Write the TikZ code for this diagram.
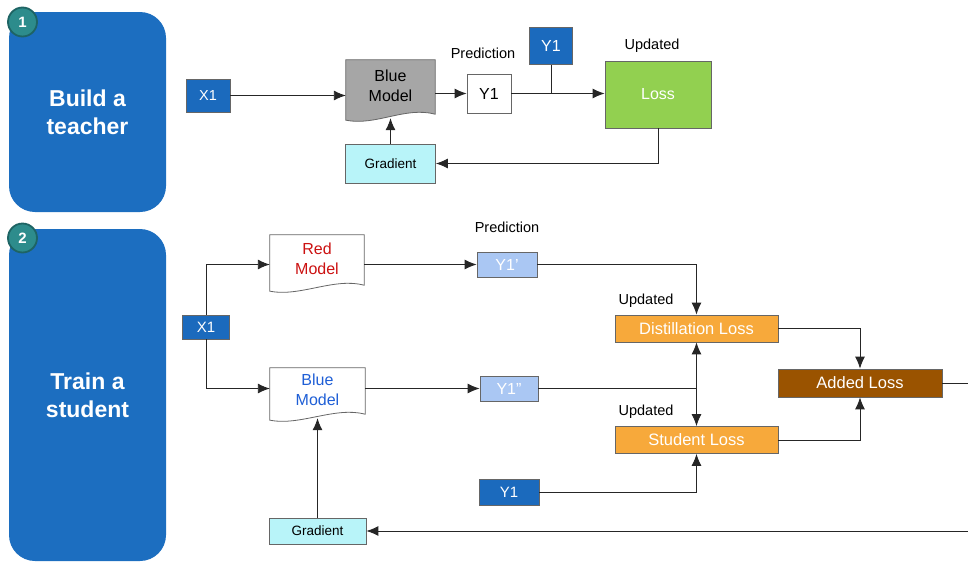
\documentclass[tikz,border=0pt]{standalone}
\usepackage{fontspec}
\setmainfont{Liberation Sans}
\usetikzlibrary{arrows.meta,backgrounds}

\definecolor{panelblue}{RGB}{28,110,192}
\definecolor{badgeteal}{RGB}{45,140,140}
\definecolor{badgeedge}{RGB}{30,100,100}
\definecolor{xblue}{RGB}{27,106,189}
\definecolor{modelgray}{RGB}{166,166,166}
\definecolor{lossgreen}{RGB}{146,208,80}
\definecolor{gradcyan}{RGB}{184,244,249}
\definecolor{predblue}{RGB}{170,199,243}
\definecolor{lossorange}{RGB}{247,169,59}
\definecolor{addbrown}{RGB}{154,83,0}
\definecolor{redtext}{RGB}{204,17,17}
\definecolor{bluetext}{RGB}{31,95,214}

\newcommand{\fs}[2]{\fontsize{#1}{#2}\selectfont}

% wavy bottom of a model node, drawn behind it
\newcommand{\docshape}[2]{%
  \begin{scope}[on background layer]
    \filldraw[fill=#2, draw=black!60, line width=.8pt]
      (#1.north west) -- (#1.north east) -- ([yshift=-2pt]#1.south east)
      .. controls ([xshift=-30pt,yshift=6pt]#1.south east) and ([xshift=30pt,yshift=-14pt]#1.south west)
      .. ([yshift=-8pt]#1.south west) -- cycle;
  \end{scope}
  \coordinate (#1 foot) at ([yshift=-6pt]#1.south);}

\tikzset{
  panel/.style={fill=panelblue, rounded corners=26pt, text=white, align=center,
    font=\bfseries\fs{23}{28}, minimum width=157, inner sep=0pt},
  badge/.style={circle, fill=badgeteal, draw=badgeedge, line width=1.8pt, text=white,
    font=\bfseries\fs{15}{18}, minimum size=29, inner sep=0pt},
  box/.style={draw=black!60, line width=.8pt, inner sep=0pt, align=center},
  xbox/.style={box, fill=xblue, text=white},
  model/.style={inner sep=0pt, align=center, font=\fs{16}{20}},
  lossbox/.style={box, fill=lossorange, text=white, font=\fs{16.5}{20},
    minimum width=163, minimum height=27},
  tag/.style={font=\fs{14.5}{18}},
  link/.style={draw=black!85, line width=.9pt},
  arr/.style={link, -{Latex[length=12pt,width=10pt]}},
}

\begin{document}
\begin{tikzpicture}[x=1pt, y=-1pt]
  \useasboundingbox (0,0) rectangle (968,562);

  % step 1
  \node[panel, minimum height=200] (pA) at (87.5,112) {Build a\\teacher};
  \node[badge] (nA) at (22.5,22) {1};
  \node[xbox, font=\fs{14.5}{17}, minimum width=44, minimum height=33] (xA) at (208,95.5) {X1};
  \node[model, minimum width=89, minimum height=52] (bmA) at (390.5,86) {Blue\\Model};
  \docshape{bmA}{modelgray}
  \node[box, fill=white, font=\fs{16}{19}, minimum width=44, minimum height=39] (yA) at (489,93.5) {Y1};
  \node[tag] (prA) at (483,53) {Prediction};
  \node[xbox, font=\fs{16}{19}, minimum width=43, minimum height=37] (ytA) at (551,46) {Y1};
  \node[box, fill=lossgreen, text=white, font=\fs{16}{19}, minimum width=106, minimum height=67] (lossA) at (658,94.5) {Loss};
  \node[tag] (upA) at (652,46) {Updated};
  \node[box, fill=gradcyan, font=\fs{13.5}{16}, minimum width=90, minimum height=39] (gradA) at (390.5,163.5) {Gradient};

  \draw[arr] (xA) -- (xA -| bmA.west);
  \draw[arr] (bmA.east |- yA) -- (yA);
  \draw[arr] (yA) -- (yA -| lossA.west);
  \draw[link] (ytA) -- (ytA |- yA);
  \draw[arr] (lossA.south) |- (gradA);
  \draw[arr] (gradA) -- (bmA foot);

  % step 2
  \node[panel, minimum height=332] (pB) at (87.5,395) {Train a\\student};
  \node[badge] (nB) at (22.5,238) {2};
  \node[xbox, font=\fs{15}{18}, minimum width=47, minimum height=24] (xB) at (206,327) {X1};
  \node[model, text=redtext, minimum width=94, minimum height=48] (rmB) at (317,259) {Red\\Model};
  \docshape{rmB}{white}
  \node[model, text=bluetext, minimum width=95, minimum height=44] (bmB) at (317.5,390) {Blue\\Model};
  \docshape{bmB}{white}
  \node[box, fill=predblue, text=white, font=\fs{16}{19}, minimum width=60, minimum height=25] (yB1) at (507,264.5) {Y1'};
  \node[tag] (prB) at (507,227) {Prediction};
  \node[box, fill=predblue, text=white, font=\fs{16}{19}, minimum width=58, minimum height=25] (yB2) at (509,388.5) {Y1''};
  \node[xbox, font=\fs{15}{18}, minimum width=60, minimum height=26] (yB3) at (509,492) {Y1};
  \node[lossbox] (dlB) at (696.5,328.5) {Distillation Loss};
  \node[tag] (upB1) at (646,301) {Updated};
  \node[lossbox] (slB) at (696.5,440) {Student Loss};
  \node[tag] (upB2) at (646,412) {Updated};
  \node[lossbox, fill=addbrown, minimum width=164, minimum height=28] (alB) at (860,383) {Added Loss};
  \node[box, fill=gradcyan, font=\fs{13.5}{16}, minimum width=97, minimum height=26] (gradB) at (317.5,531) {Gradient};
  \coordinate (jB) at (dlB |- yB2);
  \coordinate (edgeA) at (968,383);
  \coordinate (edgeB) at (968,531);

  \draw[arr] (xB.north) |- (rmB.west |- yB1);
  \draw[arr] (xB.south) |- (bmB.west |- yB2);
  \draw[arr] (rmB.east |- yB1) -- (yB1);
  \draw[arr] (bmB.east |- yB2) -- (yB2);
  \draw[arr] (yB1) -| (dlB);
  \draw[link] (yB2) -- (jB);
  \draw[arr] (jB) -- (dlB);
  \draw[arr] (jB) -- (slB);
  \draw[arr] (yB3) -| (slB);
  \draw[arr] (dlB) -| (alB);
  \draw[arr] (slB) -| (alB);
  \draw[link] (alB) -- (edgeA);
  \draw[arr] (edgeB) -- (gradB);
  \draw[arr] (gradB) -- (bmB foot);
\end{tikzpicture}
\end{document}
